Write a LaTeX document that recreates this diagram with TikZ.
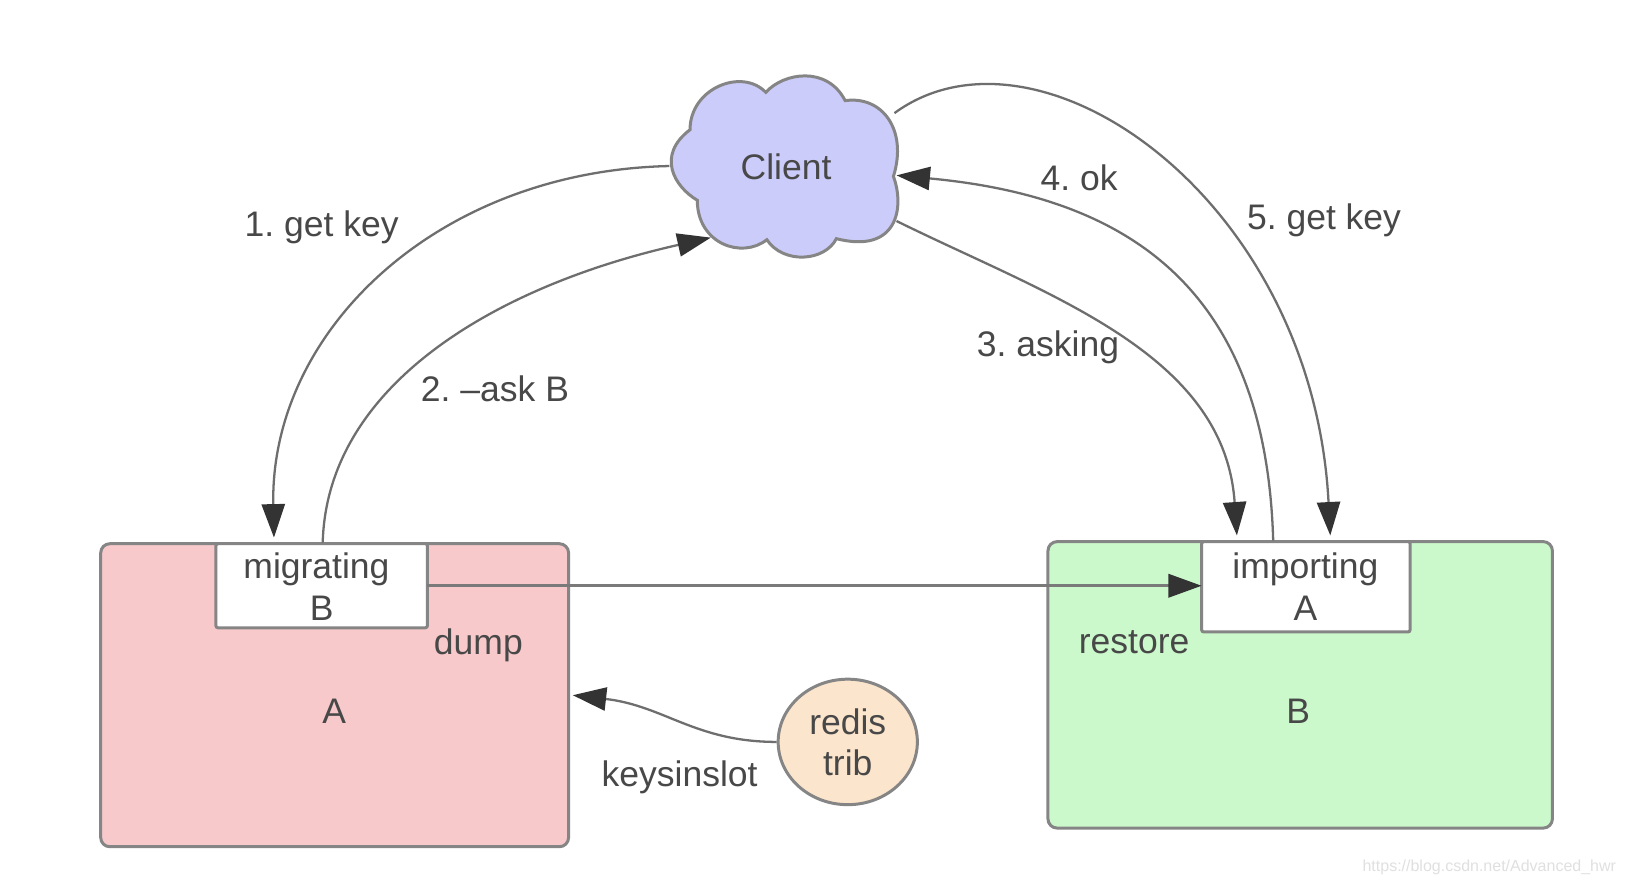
\documentclass[tikz,border=0pt]{standalone}
\usepackage{fontspec}
\setmainfont{Liberation Sans}
\frenchspacing
\usetikzlibrary{arrows.meta,shapes.geometric}
\definecolor{txt}{HTML}{484848}
\definecolor{edge}{HTML}{6E6E6E}
\definecolor{boxedge}{HTML}{858585}
\definecolor{head}{HTML}{333333}
\definecolor{afill}{HTML}{F8C9CB}
\definecolor{bfill}{HTML}{CBF9CC}
\definecolor{cloudfill}{HTML}{CCCCFB}
\definecolor{tribfill}{HTML}{FCE5CD}
\definecolor{midline}{HTML}{7A7A7A}
\tikzset{
  lbl/.style={inner sep=0pt,text=txt,font=\fontsize{10.1}{12}\selectfont},
  server/.style={draw=boxedge,line width=0.85pt,rounded corners=2.6pt,inner sep=0pt,outer sep=0pt},
  slot/.style={draw=boxedge,line width=0.85pt,rounded corners=0.6pt,fill=white,inner sep=0pt,outer sep=0pt},
  conn/.style={draw=edge,line width=0.65pt,-{Triangle[length=9.5pt,width=6.6pt,color=head]}},
}
\begin{document}
\begin{tikzpicture}[x=0.010376cm,y=-0.010376cm]
\useasboundingbox (0,0) rectangle (1567,853.9);
\fill[white] (0,0) rectangle (1567,853.9);
% servers
\node[server,fill=afill,minimum width=133.1pt,minimum height=86.2pt] (A) at (322.5,670) {};
\node[server,fill=bfill,minimum width=143.5pt,minimum height=81.5pt] (B) at (1253,660) {};
\node[slot,minimum width=60.2pt,minimum height=23.9pt] (mig) at (310,564.5) {};
\node[slot,minimum width=59.3pt,minimum height=25.7pt] (imp) at (1258.5,565.5) {};
% trib
\node[ellipse,draw=boxedge,line width=0.85pt,fill=tribfill,inner sep=0pt,minimum width=39.6pt,minimum height=35.7pt] (trib) at (817,715) {};
% cloud
\draw[draw=boxedge,line width=0.85pt,fill=cloudfill]
  (738,89) .. controls (755,70) and (797,63) .. (814.5,97)
  .. controls (850,92) and (875,125) .. (861,170)
  .. controls (872,200) and (865,245) .. (806,230)
  .. controls (795,252) and (755,255) .. (739,231)
  .. controls (715,250) and (672,235) .. (672,193)
  .. controls (650,180) and (632,150) .. (665,125)
  .. controls (665,85) and (715,65) .. (738,89) -- cycle;
\node[lbl] (client) at (757.5,161) {Client};
\coordinate (cl1) at (645,160);
\coordinate (cl2) at (685,229);
\coordinate (cl3) at (864,213);
\coordinate (cl4) at (864,169);
\coordinate (cl5) at (862,109);
\coordinate (migin) at (264,518);
\coordinate (migout) at (311,523);
\coordinate (impin3) at (1192,516);
\coordinate (impout) at (1227,521);
\coordinate (impin5) at (1282,516);
\coordinate (atrib) at (552,670);
% connectors
\draw[conn] (cl1) .. controls (420,165) and (260,320) .. (migin);
\draw[conn] (migout) .. controls (315,370) and (480,275) .. (cl2);
\draw[conn] (cl3) .. controls (1010,285) and (1180,340) .. (impin3);
\draw[conn] (impout) .. controls (1220,280) and (1090,190) .. (cl4);
\draw[conn] (cl5) .. controls (1000,8) and (1265,190) .. (impin5);
\draw[conn,draw=midline,line width=0.95pt] (mig.east) -- (mig.east -| imp.west);
\draw[conn] (trib.west) .. controls (670,715) and (640,680) .. (atrib);
% labels
\node[lbl] (l1) at (310,219.5) {1. get key};
\node[lbl] (l2) at (477,375) {2. –ask B};
\node[lbl] (l3) at (1010,335) {3. asking};
\node[lbl] (l4) at (1040,171) {4. ok};
\node[lbl] (l5) at (1276,212) {5. get key};
\node[lbl] (m1) at (305,549) {migrating};
\node[lbl] (m2) at (310,586) {B};
\node[lbl] (i1) at (1258,549) {importing};
\node[lbl] (i2) at (1258,586) {A};
\node[lbl] (dump) at (461,621.5) {dump};
\node[lbl] (restore) at (1093,619) {restore};
\node[lbl] (an) at (322,685) {A};
\node[lbl] (bn) at (1251,685) {B};
\node[lbl] (ks) at (655,749) {keysinslot};
\node[lbl] (t1) at (817,695.5) {redis};
\node[lbl] (t2) at (817,735.5) {trib};
\node[inner sep=0pt,text=black!12,font=\fontsize{4.55}{6}\selectfont,anchor=east] (wm) at (1558,836) {https://blog.csdn.net/Advanced\_hwr};
\end{tikzpicture}
\end{document}
